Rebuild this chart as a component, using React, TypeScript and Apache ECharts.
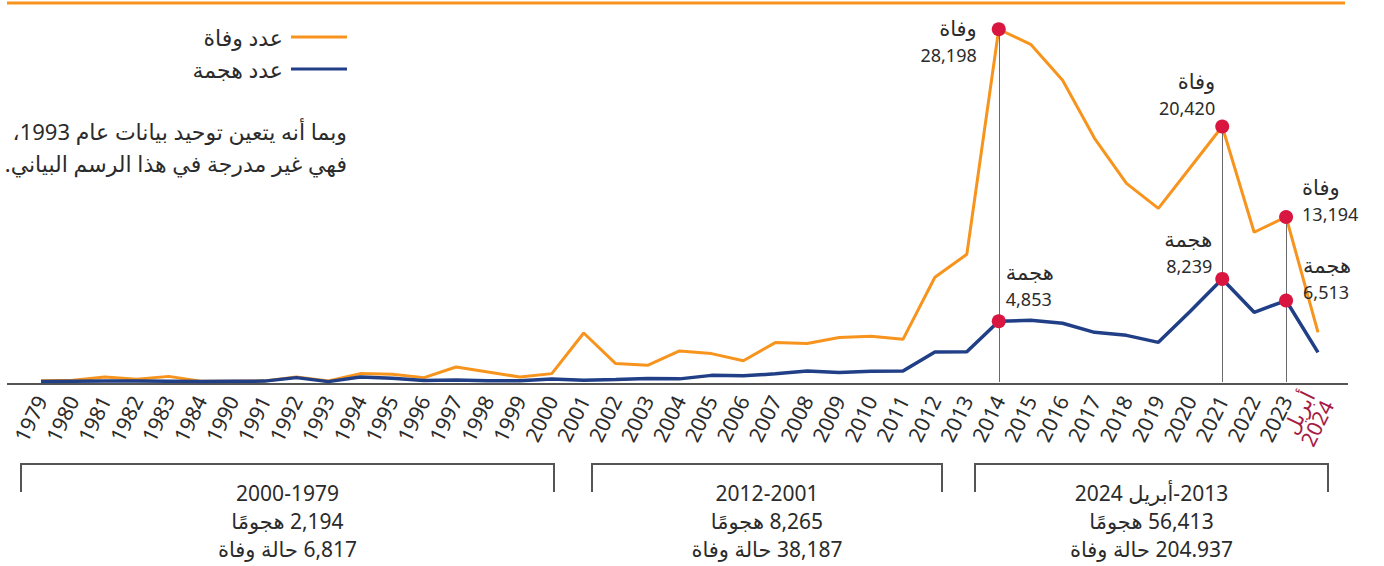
import React, { useEffect, useRef } from 'react';
import * as echarts from 'echarts';

// ---------- data ----------
const years = [
  '1979', '1980', '1981', '1982', '1983', '1984',
  '1990', '1991', '1992', '1993', '1994', '1995', '1996', '1997', '1998', '1999', '2000',
  '2001', '2002', '2003', '2004', '2005', '2006', '2007', '2008', '2009', '2010', '2011', '2012',
  '2013', '2014', '2015', '2016', '2017', '2018', '2019', '2020', '2021', '2022', '2023',
  'أبريل\n2024',
];

// عدد وفاة (deaths)
const deaths = [
  100, 135, 400, 215, 450, 60,
  60, 80, 400, 80, 670, 615, 350, 1200, 800, 400, 670,
  3920, 1470, 1335, 2480, 2270, 1700, 3150, 3070, 3550, 3650, 3410, 8370,
  10210, 28198, 26990, 24120, 19480, 15880, 13880, 17150, 20420, 11970, 13194,
  3970,
];

// عدد هجمة (attacks)
const attacks = [
  40, 60, 70, 70, 60, 40,
  60, 70, 350, 30, 400, 300, 120, 150, 100, 100, 240,
  140, 190, 270, 250, 530, 500, 650, 870, 750, 860, 870, 2400,
  2420, 4853, 4940, 4700, 3970, 3730, 3170, 5650, 8239, 5570, 6513,
  2370,
];

const seriesNames = ['عدد وفاة', 'عدد هجمة'];
const highlightYears = ['2014', '2021', '2023'];
const deathWord = 'وفاة';
const attackWord = 'هجمة';

const noteLines = [
  'وبما أنه يتعين توحيد بيانات عام 1993،',
  'فهي غير مدرجة في هذا الرسم البياني.',
];

const periods = ['2000-1979', '2012-2001', '2013-أبريل 2024'];
const periodAttacks = ['2,194 هجومًا', '8,265 هجومًا', '56,413 هجومًا'];
const periodDeaths = ['6,817 حالة وفاة', '38,187 حالة وفاة', '204.937 حالة وفاة'];

// ---------- style ----------
const FONT = '"Noto Sans", "DejaVu Sans", sans-serif';
const ORANGE = '#F7941D';
const NAVY = '#213F86';
const RED = '#D8163F';
const CRIMSON = '#A51B46';
const TXT = '#2b2b2b';
const GRAY = '#555555';

const rtl = (s: string) => '\u202B' + s + '\u202C';
const fmt = (v: number) => v.toLocaleString('en-US');

export default function App() {
  const ref = useRef<HTMLDivElement>(null);

  useEffect(() => {
    if (!ref.current) return;
    const chart = echarts.init(ref.current, undefined, { renderer: 'svg' });

    const idx = highlightYears.map((y) => years.indexOf(y));

    // label placements (relative to the 14px dot's top-left corner)
    const deathLabelPos = [
      { position: [-15, -7.5], align: 'right' },
      { position: [0, -52.5], align: 'right' },
      { position: [23, -36], align: 'left' },
    ];
    const attackLabelPos = [
      { position: [14, -56], align: 'left' },
      { position: [-3, -46.5], align: 'right' },
      { position: [24, -42], align: 'left' },
    ];

    const labelBase = {
      show: true,
      verticalAlign: 'top',
      fontSize: 18,
      lineHeight: 27,
      color: TXT,
      fontFamily: FONT,
      rich: {
        w: { fontSize: 21, lineHeight: 27, color: TXT, fontFamily: FONT },
        n: { fontSize: 18, lineHeight: 27, color: TXT, fontFamily: FONT },
      },
    };

    const bracketX = [
      [21, 554],
      [592, 942],
      [975, 1328],
    ];

    const graphic: any[] = [
      { type: 'rect', shape: { x: 7, y: 1.5, width: 1338, height: 3 }, style: { fill: ORANGE }, silent: true },
      { type: 'line', shape: { x1: 7, y1: 384, x2: 1348, y2: 384 }, style: { stroke: GRAY, lineWidth: 2 }, silent: true },
    ];
    noteLines.forEach((t, i) => {
      graphic.push({
        type: 'text',
        x: 347,
        y: 131 + i * 32,
        style: { text: rtl(t), align: 'right', verticalAlign: 'middle', fontSize: 22, fontFamily: FONT, fill: TXT },
      });
    });
    bracketX.forEach(([a, b], i) => {
      graphic.push({
        type: 'polyline',
        shape: { points: [[a, 492], [a, 464], [b, 464], [b, 492]] },
        style: { stroke: GRAY, lineWidth: 2, fill: 'none' },
        silent: true,
      });
      const cx = (a + b) / 2;
      [periods[i], periodAttacks[i], periodDeaths[i]].forEach((t, j) => {
        graphic.push({
          type: 'text',
          x: cx,
          y: 493 + j * 28,
          style: { text: rtl(t), align: 'center', verticalAlign: 'middle', fontSize: 21, fontFamily: FONT, fill: TXT },
        });
      });
    });

    const option: any = {
      animation: false,
      textStyle: { fontFamily: FONT },
      grid: { left: 41, right: 66, top: 6.7, bottom: 184, containLabel: false },
      legend: {
        data: seriesNames,
        orient: 'vertical',
        right: 1384 - 347,
        top: 26,
        align: 'right',
        icon: 'rect',
        itemWidth: 56,
        itemHeight: 3,
        itemGap: 10,
        padding: 0,
        textStyle: { fontSize: 22, lineHeight: 22, color: TXT, fontFamily: FONT, padding: [0, 3, 0, 0] },
      },
      xAxis: {
        type: 'category',
        boundaryGap: false,
        data: years.map((y, i) =>
          i === years.length - 1 ? { value: y, textStyle: { color: CRIMSON, lineHeight: 21 } } : y
        ),
        axisLine: { show: false },
        axisTick: { show: false },
        splitLine: { show: false },
        axisLabel: {
          interval: 0,
          rotate: 64,
          fontSize: 21,
          color: TXT,
          margin: 15,
          padding: [8, 0, 0, 0],
          fontFamily: FONT,
        },
      },
      yAxis: { type: 'value', min: 0, max: 30000, show: false, splitLine: { show: false } },
      series: [
        {
          name: seriesNames[0],
          type: 'line',
          data: deaths,
          symbol: 'none',
          lineStyle: { color: ORANGE, width: 3 },
          itemStyle: { color: ORANGE },
          z: 2,
          markLine: {
            silent: true,
            symbol: ['none', 'none'],
            label: { show: false },
            lineStyle: { color: '#6a6a6a', width: 1, type: 'solid' },
            data: idx.map((i) => [{ coord: [i, deaths[i]] }, { coord: [i, 0] }]),
          },
          markPoint: {
            silent: true,
            symbol: 'circle',
            symbolSize: 14,
            itemStyle: { color: RED },
            data: idx.map((i, k) => ({
              coord: [i, deaths[i]],
              value: deaths[i],
              label: {
                ...labelBase,
                ...deathLabelPos[k],
                formatter: '{w|' + deathWord + '}\n{n|' + fmt(deaths[i]) + '}',
              },
            })),
          },
        },
        {
          name: seriesNames[1],
          type: 'line',
          data: attacks,
          symbol: 'none',
          lineStyle: { color: NAVY, width: 3.5 },
          itemStyle: { color: NAVY },
          z: 3,
          markPoint: {
            silent: true,
            symbol: 'circle',
            symbolSize: 14,
            itemStyle: { color: RED },
            data: idx.map((i, k) => ({
              coord: [i, attacks[i]],
              value: attacks[i],
              label: {
                ...labelBase,
                ...attackLabelPos[k],
                formatter: '{w|' + attackWord + '}\n{n|' + fmt(attacks[i]) + '}',
              },
            })),
          },
        },
      ],
      graphic,
    };

    chart.setOption(option);
    return () => chart.dispose();
  }, []);

  return (
    <div
      ref={ref}
      style={{ position: 'absolute', left: 0, top: 0, width: 1384, height: 566, background: '#fff' }}
    />
  );
}
